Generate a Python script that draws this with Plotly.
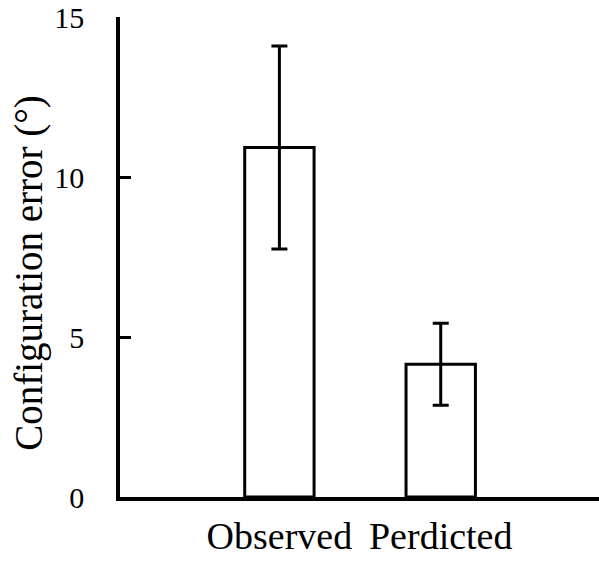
import plotly.graph_objects as go

categories = ["Observed", "Perdicted"]
values = [10.92, 4.15]
errors = [3.17, 1.28]
y_ticks = [0, 5, 10, 15]
y_title = "Configuration error (°)"

xpos = list(range(len(categories)))

fig = go.Figure()
fig.add_trace(go.Bar(
    x=xpos, y=values, width=0.43,
    marker=dict(color="white", line=dict(color="black", width=3)),
    error_y=dict(type="data", array=errors, visible=True, color="black", thickness=3, width=8),
))

font_family = "Liberation Serif"
fig.update_layout(
    width=599, height=561,
    margin=dict(l=120, r=0, t=17, b=64),
    plot_bgcolor="white", paper_bgcolor="white",
    showlegend=False,
    font=dict(family=font_family, color="black"),
    xaxis=dict(
        range=[-0.988, 1.981],
        tickvals=xpos, ticktext=categories,
        showline=True, linecolor="black", linewidth=3.5,
        ticks="", showgrid=False, zeroline=False,
        tickfont=dict(size=38, family=font_family),
        ticklabelstandoff=3,
        automargin=False,
    ),
    yaxis=dict(
        range=[0, 15],
        tickvals=y_ticks,
        showline=True, linecolor="black", linewidth=3.5,
        ticks="inside", ticklen=11, tickwidth=3, tickcolor="black",
        showgrid=False, zeroline=False,
        tickfont=dict(size=30, family=font_family),
        ticklabelstandoff=26,
        automargin=False,
    ),
    annotations=[dict(
        text=y_title, textangle=-90, showarrow=False,
        xref="paper", yref="paper", x=-0.19, y=0.467,
        xanchor="center", yanchor="middle",
        font=dict(size=39, family=font_family, color="black"),
    )],
)

fig.write_html("out.html")
